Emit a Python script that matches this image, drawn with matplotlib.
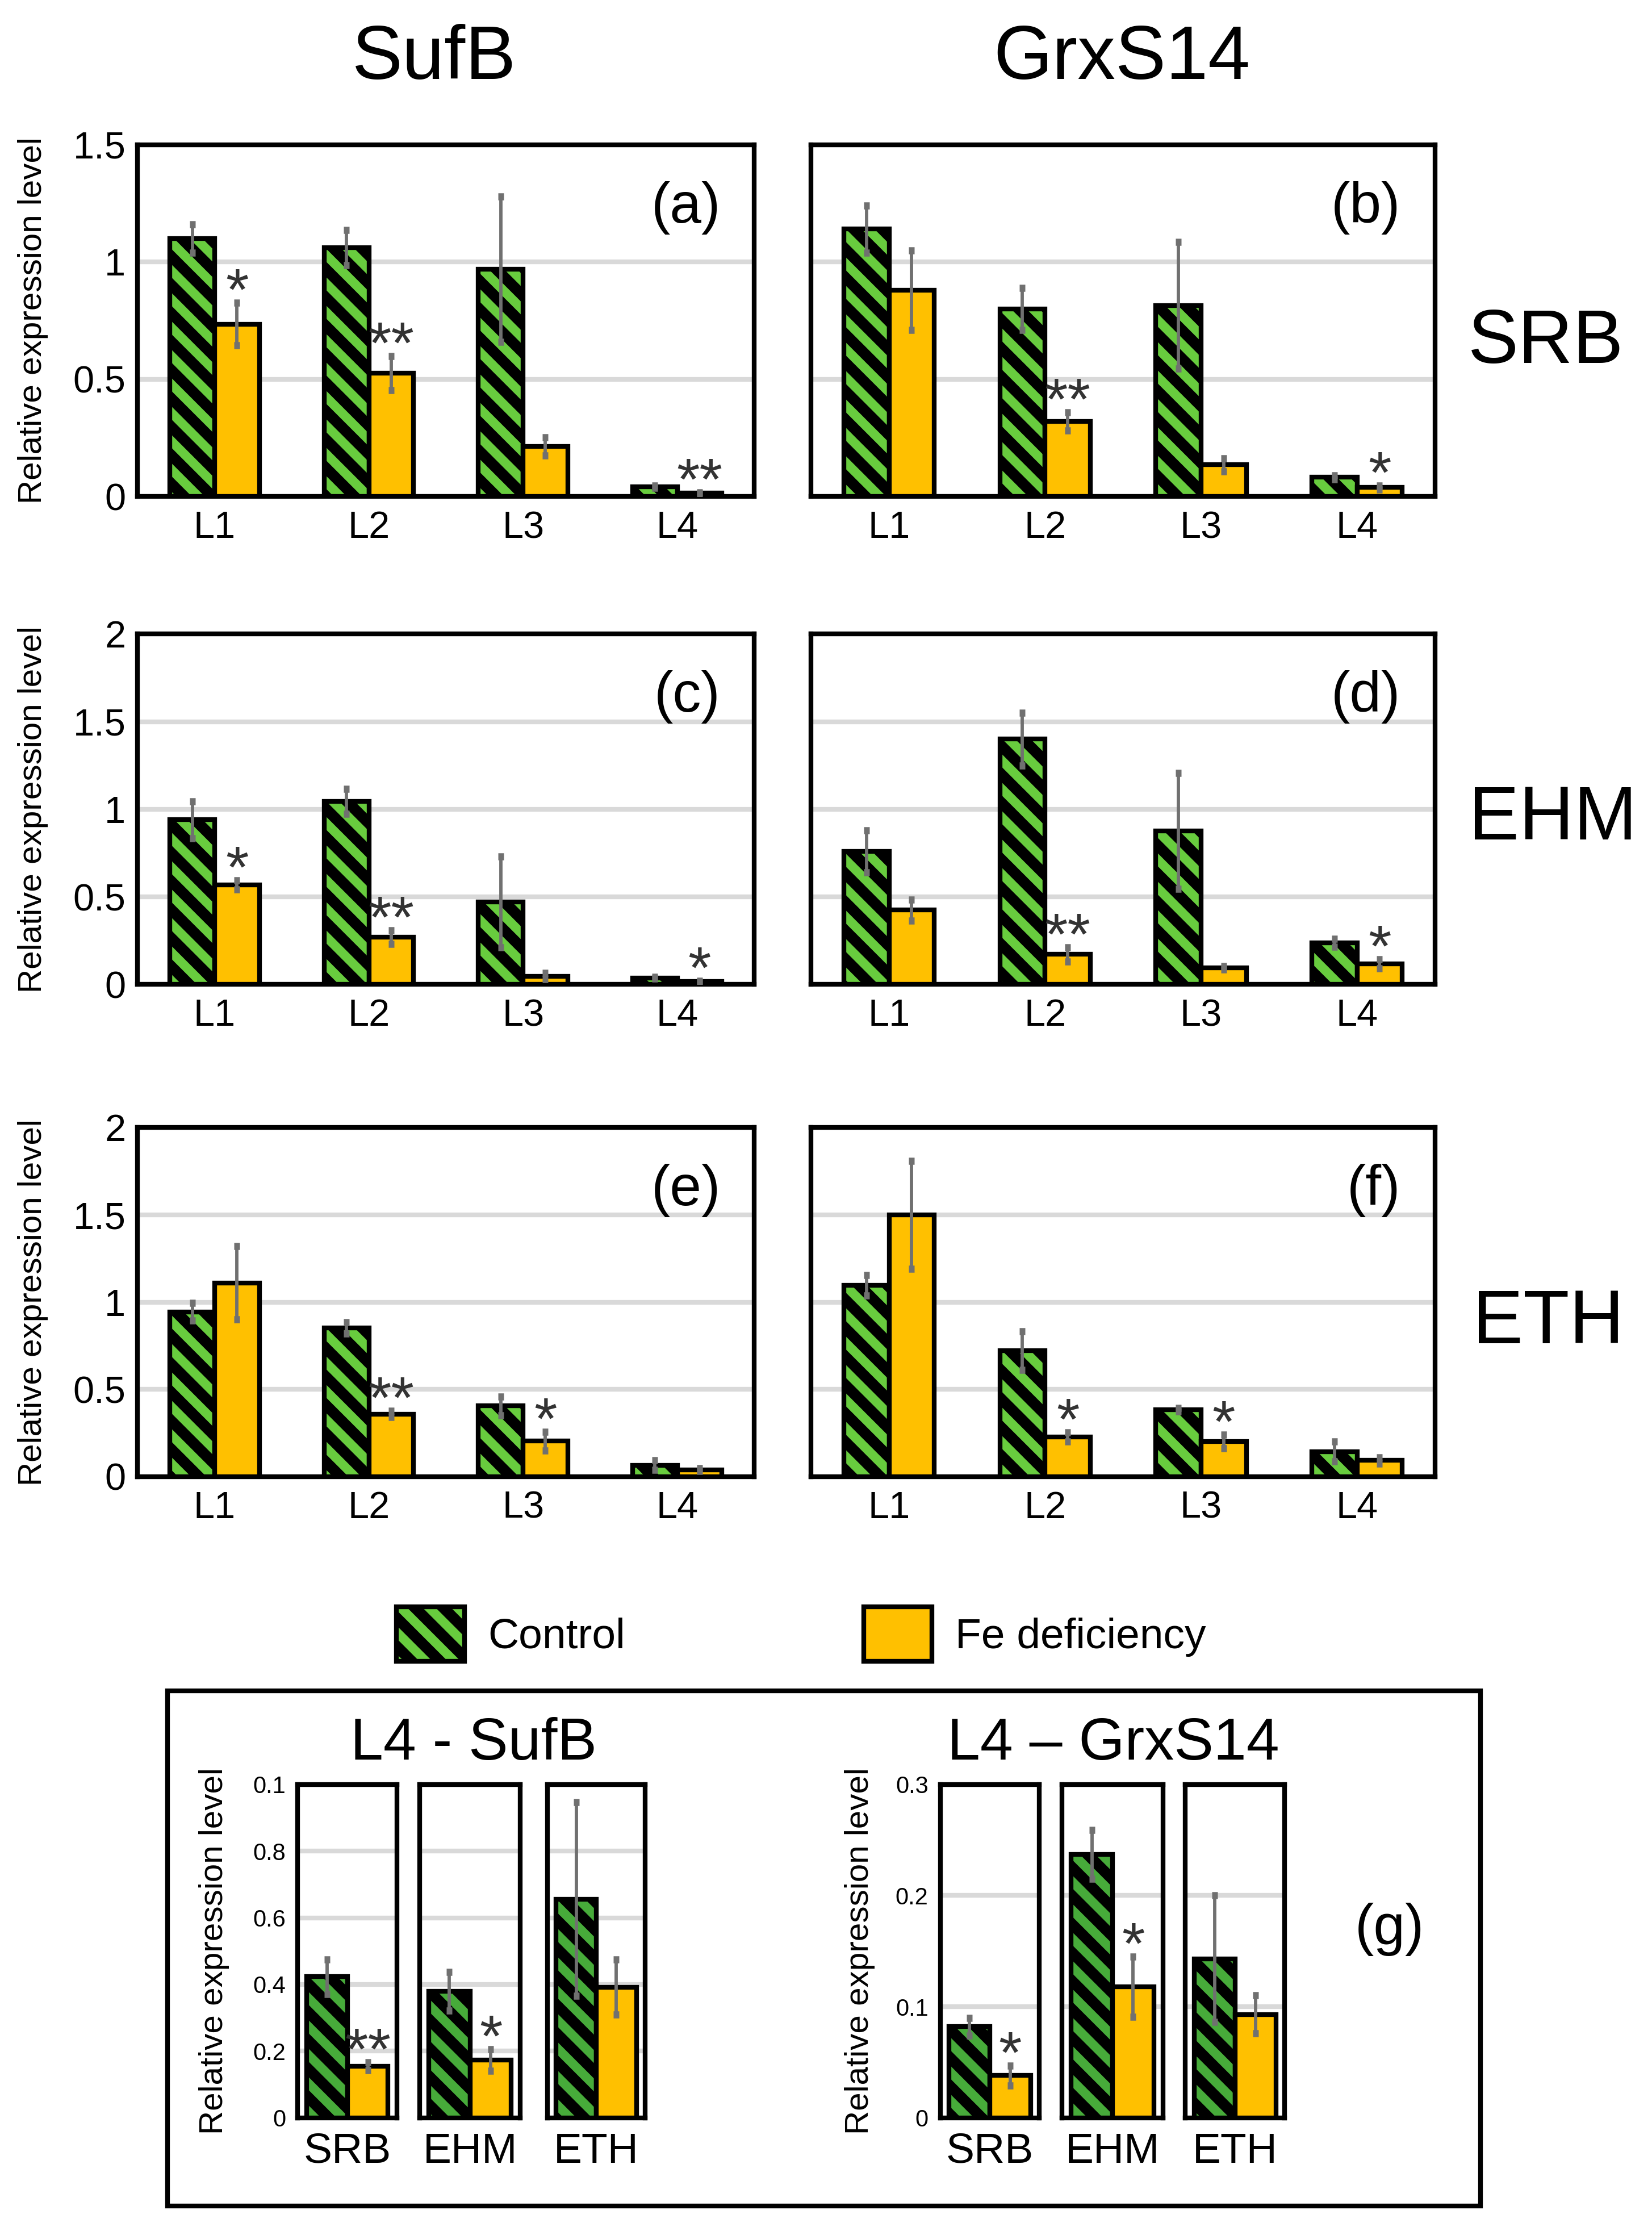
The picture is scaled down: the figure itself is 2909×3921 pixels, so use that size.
import matplotlib
matplotlib.use('Agg')
import matplotlib.pyplot as plt
from matplotlib.patches import Rectangle
import numpy as np

plt.rcParams['font.family'] = ['Liberation Sans', 'DejaVu Sans']
plt.rcParams['hatch.linewidth'] = 4.6

# ---------------- data ----------------
lines = ['L1', 'L2', 'L3', 'L4']
tissues = ['SRB', 'EHM', 'ETH']
gene_titles = ['SufB', 'GrxS14']
series_names = ['Control', 'Fe deficiency']

# (a) SufB - SRB
a_ctrl = [1.10, 1.06, 0.97, 0.042]
a_ctrl_err = [0.06, 0.075, 0.31, 0.005]
a_fe = [0.735, 0.525, 0.213, 0.015]
a_fe_err = [0.09, 0.073, 0.038, 0.0015]
a_sig = ['*', '**', '', '**']

# (b) GrxS14 - SRB
b_ctrl = [1.14, 0.80, 0.815, 0.082]
b_ctrl_err = [0.10, 0.09, 0.27, 0.008]
b_fe = [0.88, 0.32, 0.135, 0.038]
b_fe_err = [0.17, 0.038, 0.028, 0.009]
b_sig = ['', '**', '', '*']

# (c) SufB - EHM
c_ctrl = [0.94, 1.045, 0.47, 0.038]
c_ctrl_err = [0.105, 0.07, 0.26, 0.006]
c_fe = [0.567, 0.27, 0.047, 0.017]
c_fe_err = [0.026, 0.038, 0.017, 0.003]
c_sig = ['*', '**', '', '*']

# (d) GrxS14 - EHM
d_ctrl = [0.76, 1.40, 0.877, 0.237]
d_ctrl_err = [0.12, 0.15, 0.33, 0.022]
d_fe = [0.425, 0.172, 0.094, 0.118]
d_fe_err = [0.06, 0.04, 0.01, 0.027]
d_sig = ['', '**', '', '*']

# (e) SufB - ETH
e_ctrl = [0.945, 0.852, 0.405, 0.066]
e_ctrl_err = [0.05, 0.033, 0.053, 0.029]
e_fe = [1.11, 0.358, 0.203, 0.039]
e_fe_err = [0.21, 0.018, 0.054, 0.008]
e_sig = ['', '**', '*', '']

# (f) GrxS14 - ETH
f_ctrl = [1.097, 0.723, 0.384, 0.143]
f_ctrl_err = [0.058, 0.11, 0.01, 0.057]
f_fe = [1.50, 0.228, 0.201, 0.093]
f_fe_err = [0.31, 0.026, 0.04, 0.017]
f_sig = ['', '*', '*', '']

# (g) L4 - SufB (values as plotted on its own axis)
gs_ctrl = [0.423, 0.38, 0.656]
gs_ctrl_err = [0.052, 0.058, 0.29]
gs_fe = [0.154, 0.173, 0.392]
gs_fe_err = [0.012, 0.032, 0.083]
gs_sig = ['**', '*', '']
gs_ticks = [0, 0.2, 0.4, 0.6, 0.8, 1.0]
gs_ticklabels = ['0', '0.2', '0.4', '0.6', '0.8', '0.1']

# (g) L4 - GrxS14
gg_ctrl = [0.082, 0.237, 0.143]
gg_ctrl_err = [0.008, 0.022, 0.057]
gg_fe = [0.038, 0.118, 0.093]
gg_fe_err = [0.009, 0.027, 0.017]
gg_sig = ['*', '*', '']
gg_ticks = [0, 0.1, 0.2, 0.3]
gg_ticklabels = ['0', '0.1', '0.2', '0.3']

top_ticks_srb = [0, 0.5, 1.0, 1.5]
top_ticklabels_srb = ['0', '0.5', '1', '1.5']
top_ticks = [0, 0.5, 1.0, 1.5, 2.0]
top_ticklabels = ['0', '0.5', '1', '1.5', '2']

# ---------------- style ----------------
GREEN = '#68cc3e'
GREEN_DARK = '#47ab3a'
ORANGE = '#ffc000'
ERRC = '#707070'
STARC = '#333333'
GRIDC = '#d9d9d9'
NARROW = ['Liberation Sans Narrow', 'Liberation Sans', 'DejaVu Sans']
HATCH = '\\\\'

W, H = 1165.0, 1570.0
fig = plt.figure(figsize=(2909 / 300, 3921 / 300), dpi=300)


def rect(x0, x1, y0, y1):
    return [x0 / W, 1 - y1 / H, (x1 - x0) / W, (y1 - y0) / H]


def style_axes(ax, ticks, labels, show_labels, tick_fs, lw=2.0):
    ax.set_yticks(ticks)
    ax.set_ylim(ticks[0], ticks[-1])
    if show_labels:
        ax.set_yticklabels(labels, fontsize=tick_fs, family=NARROW)
    else:
        ax.set_yticklabels([])
    ax.tick_params(axis='both', length=0)
    ax.tick_params(axis='y', pad=5)
    ax.tick_params(axis='x', pad=6)
    ax.yaxis.grid(True, color=GRIDC, linewidth=2.0)
    ax.set_axisbelow(True)
    for s in ax.spines.values():
        s.set_linewidth(lw)
        s.set_color('black')


def stars(ax, xs, tops, sig, fs):
    for x, t, s in zip(xs, tops, sig):
        if s:
            ax.annotate(s, (x, t), xytext=(0, -3), textcoords='offset points',
                        ha='center', va='baseline', fontsize=fs, color=STARC)


panels = [
    ('(a)', a_ctrl, a_ctrl_err, a_fe, a_fe_err, a_sig, 0, 0),
    ('(b)', b_ctrl, b_ctrl_err, b_fe, b_fe_err, b_sig, 0, 1),
    ('(c)', c_ctrl, c_ctrl_err, c_fe, c_fe_err, c_sig, 1, 0),
    ('(d)', d_ctrl, d_ctrl_err, d_fe, d_fe_err, d_sig, 1, 1),
    ('(e)', e_ctrl, e_ctrl_err, e_fe, e_fe_err, e_sig, 2, 0),
    ('(f)', f_ctrl, f_ctrl_err, f_fe, f_fe_err, f_sig, 2, 1),
]
cols = [(97, 532), (572, 1012)]
rows = [(102, 350), (447, 694), (795, 1041)]

x = np.arange(len(lines))
bw = 0.29
legend_handles = None
for lab, ctrl, ctrl_err, fe, fe_err, sig, r, c in panels:
    ax = fig.add_axes(rect(cols[c][0], cols[c][1], rows[r][0], rows[r][1]))
    b1 = ax.bar(x - bw / 2, ctrl, bw, color=GREEN, edgecolor='black',
                linewidth=2.0, hatch=HATCH, zorder=3)
    b2 = ax.bar(x + bw / 2, fe, bw, color=ORANGE, edgecolor='black',
                linewidth=2.0, zorder=3)
    ax.errorbar(x - bw / 2, ctrl, yerr=ctrl_err, fmt='none', ecolor=ERRC,
                elinewidth=1.4, capsize=1.3, capthick=3, zorder=4)
    ax.errorbar(x + bw / 2, fe, yerr=fe_err, fmt='none', ecolor=ERRC,
                elinewidth=1.4, capsize=1.3, capthick=3, zorder=4)
    if legend_handles is None:
        legend_handles = (b1, b2)
    ax.set_xlim(-0.5, len(lines) - 0.5)
    ax.set_xticks(x)
    ax.set_xticklabels(lines, fontsize=16)
    if r == 0:
        style_axes(ax, top_ticks_srb, top_ticklabels_srb, c == 0, 16)
    else:
        style_axes(ax, top_ticks, top_ticklabels, c == 0, 16)
    if c == 0:
        ax.set_ylabel('Relative expression level', fontsize=14)
        ax.yaxis.set_label_coords(-0.145, 0.5)
    tops = [v + e for v, e in zip(fe, fe_err)]
    stars(ax, x + bw / 2, tops, sig, 25)
    ax.text(0.945, 0.82, lab, transform=ax.transAxes, ha='right', va='center',
            fontsize=24)

# column titles and row labels
fig.text(306 / W, 1 - 42 / H, gene_titles[0], ha='center', va='center', fontsize=32)
fig.text(791 / W, 1 - 42 / H, gene_titles[1], ha='center', va='center', fontsize=32)
for t, (yc, xc) in zip(tissues, [(242, 1090), (578, 1095), (933, 1092)]):
    fig.text(xc / W, 1 - yc / H, t, ha='center', va='center', fontsize=32)

# legend
fig.legend(legend_handles, series_names, loc='center',
           bbox_to_anchor=(565 / W, 1 - 1152 / H), ncol=2, frameon=False,
           fontsize=18, handlelength=1.6, handleheight=1.6,
           handletextpad=0.55, columnspacing=5.6)

# (g) outer box
fig.patches.append(Rectangle((118 / W, 1 - 1555 / H), (1044 - 118) / W,
                             (1555 - 1192) / H, transform=fig.transFigure,
                             fill=False, edgecolor='black', linewidth=2.0))

g_sets = [
    ('L4 - SufB', gs_ctrl, gs_ctrl_err, gs_fe, gs_fe_err, gs_sig, gs_ticks,
     gs_ticklabels, [(210, 280), (296, 367), (386, 455)], 334, -0.686),
    ('L4 \u2013 GrxS14', gg_ctrl, gg_ctrl_err, gg_fe, gg_fe_err, gg_sig, gg_ticks,
     gg_ticklabels, [(663, 733), (749, 820), (836, 906)], 785, -0.657),
]
gbw = 0.41
for title, ctrl, ctrl_err, fe, fe_err, sig, ticks, tlabels, xs, tx, ylx in g_sets:
    for i, (x0, x1) in enumerate(xs):
        ax = fig.add_axes(rect(x0, x1, 1258, 1493))
        ax.bar([-gbw / 2], [ctrl[i]], gbw, color=GREEN_DARK, edgecolor='black',
               linewidth=2.0, hatch=HATCH, zorder=3)
        ax.bar([gbw / 2], [fe[i]], gbw, color=ORANGE, edgecolor='black',
               linewidth=2.0, zorder=3)
        ax.errorbar([-gbw / 2], [ctrl[i]], yerr=[ctrl_err[i]], fmt='none',
                    ecolor=ERRC, elinewidth=1.4, capsize=1.3, capthick=3, zorder=4)
        ax.errorbar([gbw / 2], [fe[i]], yerr=[fe_err[i]], fmt='none',
                    ecolor=ERRC, elinewidth=1.4, capsize=1.3, capthick=3, zorder=4)
        ax.set_xlim(-0.5, 0.5)
        ax.set_xticks([0])
        ax.set_xticklabels([tissues[i]], fontsize=18)
        style_axes(ax, ticks, tlabels, i == 0, 10)
        stars(ax, [gbw / 2], [fe[i] + fe_err[i]], [sig[i]], 25)
        if i == 0:
            ax.set_ylabel('Relative expression level', fontsize=14)
            ax.yaxis.set_label_coords(ylx, 0.5)
    fig.text(tx / W, 1 - 1230 / H, title, ha='center', va='center', fontsize=25)

fig.text(980 / W, 1 - 1360 / H, '(g)', ha='center', va='center', fontsize=24)

fig.savefig('out.png', dpi=300, facecolor='white')
